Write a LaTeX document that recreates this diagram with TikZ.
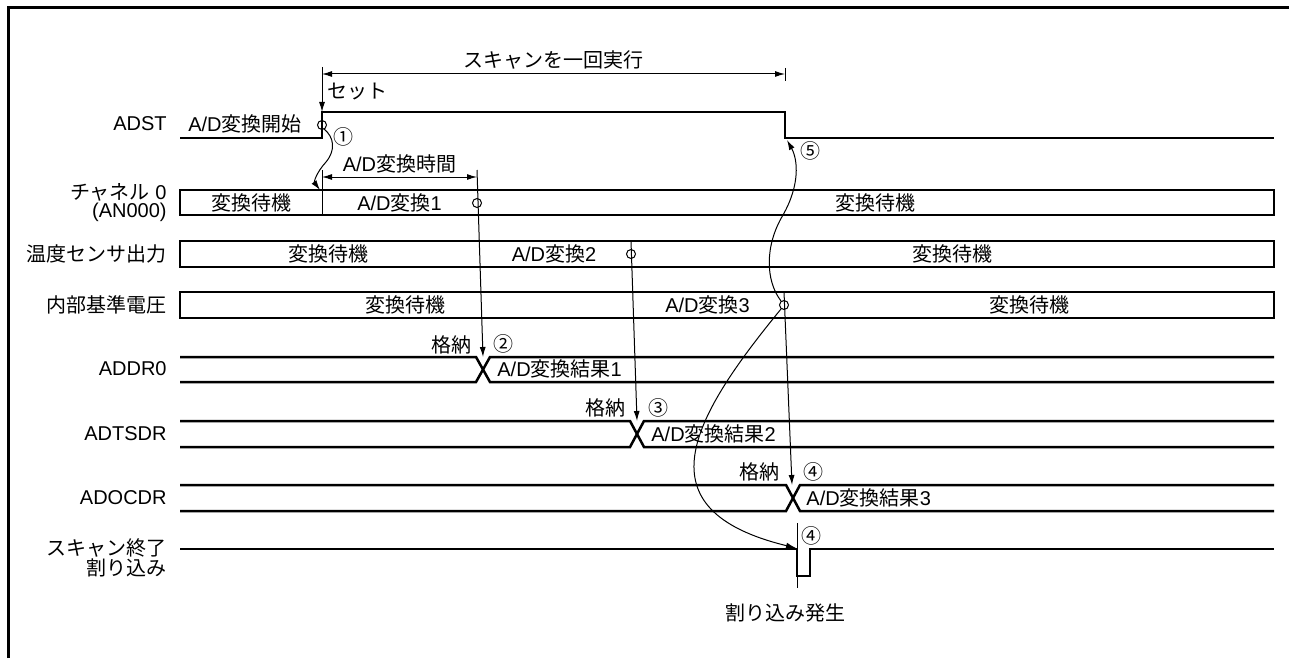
\documentclass[tikz,border=0pt]{standalone}
\usepackage{fontspec}
\setmainfont{Liberation Sans}
\newfontfamily\jpf{Noto Sans CJK JP}
\newcommand\J[1]{{\jpf #1}}
\usetikzlibrary{arrows.meta}
\begin{document}
\begin{tikzpicture}[x=0.5pt,y=-0.5pt,
  sig/.style={line width=1.25pt},
  thinl/.style={line width=0.5pt},
  arr/.style={thinl,-{Latex[length=5pt,width=3pt]}},
  dimarr/.style={thinl,{Latex[length=5pt,width=3pt]}-{Latex[length=5pt,width=3pt]}},
  lbl/.style={anchor=east,align=right,font=\fontsize{10pt}{9pt}\selectfont,inner sep=0pt},
  txt/.style={font=\fontsize{10pt}{12pt}\selectfont,inner sep=0pt},
  ring/.style={circle,draw,thinl,minimum size=4.5pt,inner sep=0pt},
]
\useasboundingbox (0,0) rectangle (1289,658);
% frame
\draw[line width=1.5pt] (8,658) -- (8,8) -- (1289,8);

% row labels
\node[lbl] (lADST) at (167,124) {ADST};
\node[lbl] (lCH0) at (167,203) {\J{チャネル} 0\\(AN000)};
\node[lbl] (lTMP) at (167,254) {\J{温度センサ出力}};
\node[lbl] (lREF) at (167,305) {\J{内部基準電圧}};
\node[lbl] (lDR0) at (167,369) {ADDR0};
\node[lbl] (lTS) at (167,434) {ADTSDR};
\node[lbl] (lOC) at (167,498) {ADOCDR};
\node[lbl] (lINT) at (167,558) {\J{スキャン終了}\\\J{割り込み}};

% ADST signal
\draw[sig] (180,138) -- (322,138) -- (322,112) -- (785,112) -- (785,138) -- (1274,138);
\node[txt] (tStart) at (245,124) {A/D\J{変換開始}};
\node[ring] (c0) at (322,125) {};
\node[txt] (n1) at (343,137) {\J{①}};
\node[txt] (n5) at (810,151) {\J{⑤}};

% scan dimension
\coordinate (scanTickL) at (322,67);
\coordinate (riseTop) at (322,112);
\coordinate (scanL) at (322,74);
\coordinate (scanR) at (785,74);
\coordinate (scanTickRa) at (785,68);
\coordinate (scanTickRb) at (785,81);
\draw[arr] (scanTickL) -- (riseTop);
\draw[thinl] (scanTickRa) -- (scanTickRb);
\draw[dimarr] (scanL) -- (scanR);
\node[txt] (tScan) at (553.5,60) {\J{スキャンを一回実行}};
\node[txt,anchor=west] (tSet) at (327,92) {\J{セット}};

% conversion time dimension
\coordinate (adtL) at (322,177);
\coordinate (adtR) at (477,177);
\draw[dimarr] (adtL) -- (adtR);
\node[txt] (tAdt) at (399.5,164) {A/D\J{変換時間}};
\coordinate (divTop) at (322,170);
\coordinate (divBot) at (322,215);
\draw[thinl] (divTop) -- (divBot);

% channel boxes
\draw[sig] (180,190) rectangle (1274,215);
\draw[sig] (180,241) rectangle (1274,267);
\draw[sig] (180,292) rectangle (1274,318);
\node[txt] (b1a) at (251,203) {\J{変換待機}};
\node[txt] (b1b) at (399.5,203) {A/D\J{変換}1};
\node[txt] (b1c) at (875.5,203) {\J{変換待機}};
\node[txt] (b2a) at (328.5,254) {\J{変換待機}};
\node[txt] (b2b) at (554,254) {A/D\J{変換}2};
\node[txt] (b2c) at (952.5,254) {\J{変換待機}};
\node[txt] (b3a) at (405.5,305) {\J{変換待機}};
\node[txt] (b3b) at (707.5,305) {A/D\J{変換}3};
\node[txt] (b3c) at (1029,305) {\J{変換待機}};
\node[ring] (c1) at (477,203) {};
\node[ring] (c2) at (631,254) {};
\node[ring] (c3) at (784,305) {};

% data registers
\draw[sig] (180,357) -- (476,357) -- (490,382) -- (1274,382);
\draw[sig] (180,382) -- (476,382) -- (490,357) -- (1274,357);
\draw[sig] (180,421) -- (630,421) -- (644,447) -- (1274,447);
\draw[sig] (180,447) -- (630,447) -- (644,421) -- (1274,421);
\draw[sig] (180,485) -- (786,485) -- (800,511) -- (1274,511);
\draw[sig] (180,511) -- (786,511) -- (800,485) -- (1274,485);
\node[txt,anchor=west] (r1) at (497,369) {A/D\J{変換結果}1};
\node[txt,anchor=west] (r2) at (651,434) {A/D\J{変換結果}2};
\node[txt,anchor=west] (r3) at (806,498) {A/D\J{変換結果}3};
\node[txt] (k1) at (451,345) {\J{格納}};
\node[txt] (n2) at (503,344) {\J{②}};
\node[txt] (k2) at (605,408) {\J{格納}};
\node[txt] (n3) at (658,408) {\J{③}};
\node[txt] (k3) at (759,472) {\J{格納}};
\node[txt] (n4a) at (813,472) {\J{④}};

% store arrows
\coordinate (s1a) at (477,170);
\coordinate (s1b) at (483,357);
\coordinate (s2a) at (631,241);
\coordinate (s2b) at (637,421);
\coordinate (s3a) at (784,292);
\coordinate (s3b) at (792,485);
\draw[arr] (s1a) -- (s1b);
\draw[arr] (s2a) -- (s2b);
\draw[arr] (s3a) -- (s3b);

% interrupt
\draw[sig] (180,549) -- (797,549) -- (797,576) -- (810,576) -- (810,549) -- (1274,549);
\coordinate (ia) at (797,523);
\coordinate (ib) at (797,588);
\draw[thinl] (ia) -- (ib);
\node[txt] (n4b) at (811,536) {\J{④}};
\node[txt] (tIrq) at (785,613) {\J{割り込み発生}};

% curved arrows
\coordinate (w1s) at (324,129);
\coordinate (w1m) at (326,162);
\coordinate (w1e) at (320,190);
\draw[arr] (w1s) .. controls (334,137) and (336,150) .. (w1m) .. controls (316,173) and (314,182) .. (w1e);
\coordinate (w5s) at (781,301);
\coordinate (w5m) at (783,215);
\coordinate (w5e) at (787,140);
\draw[arr] (w5s) .. controls (765,280) and (765,245) .. (w5m) .. controls (800,185) and (798,160) .. (w5e);
\coordinate (w4s) at (781,309);
\coordinate (w4e) at (796,548);
\draw[arr] (w4s) .. controls (690,420) and (640,510) .. (w4e);
\end{tikzpicture}
\end{document}
